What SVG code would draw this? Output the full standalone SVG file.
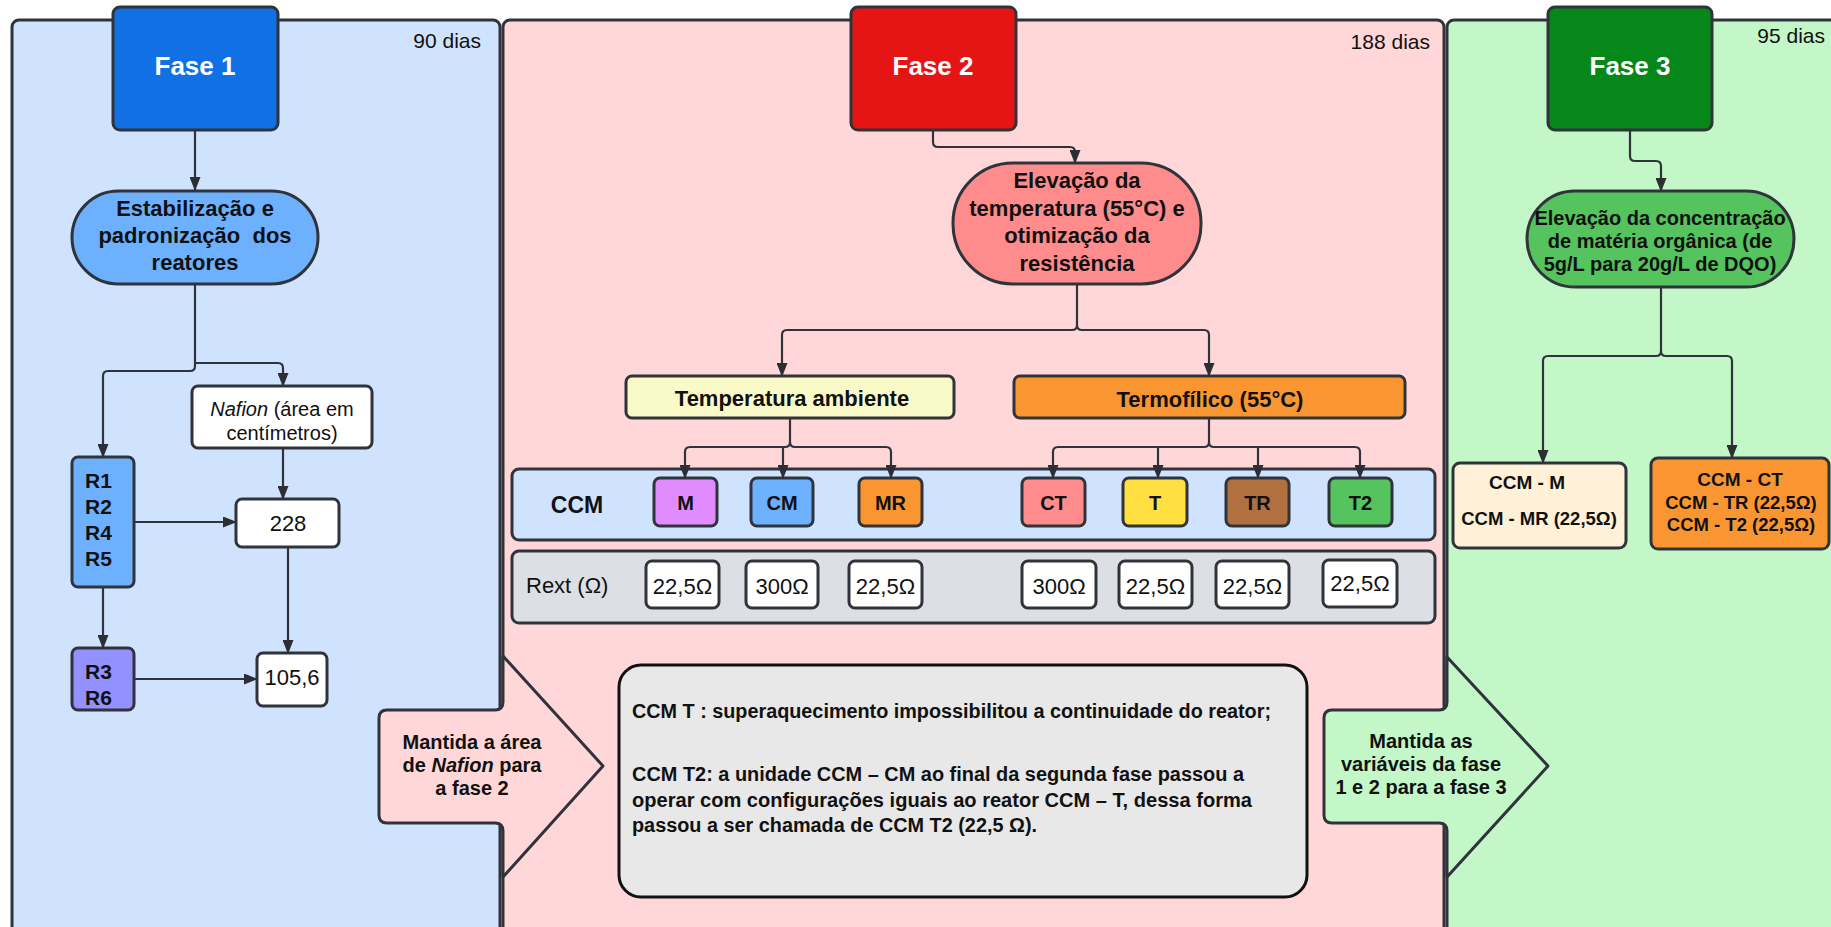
<svg xmlns="http://www.w3.org/2000/svg" width="1831" height="927" viewBox="0 0 1831 927">
<style>
.pn{stroke:#30343a;stroke-width:3}
.nd{stroke:#30343a;stroke-width:3}
.c{fill:none;stroke:#30343a;stroke-width:2.2}
.t{font-family:"Liberation Sans",Arial,sans-serif;fill:#111}
.b{font-weight:bold}
.w{fill:#fff;font-weight:bold;font-size:26px}
.m{text-anchor:middle}
</style>
<defs>
<marker id="ah" markerWidth="14" markerHeight="11" refX="13" refY="5.5" orient="auto" markerUnits="userSpaceOnUse"><path d="M0,0 L14,5.5 L0,11 z" fill="#2b2f33"/></marker>
</defs>
<rect width="1831" height="927" fill="#ffffff"/>
<g id="panels">
<rect class="pn" x="12" y="20" width="488" height="960" rx="7" fill="#CFE3FE"/>
<rect class="pn" x="503" y="20" width="941" height="960" rx="7" fill="#FFD7D8"/>
<rect class="pn" x="1447" y="20" width="400" height="960" rx="7" fill="#C3F7C8"/>
<text class="t" x="481" y="48" font-size="21" text-anchor="end">90 dias</text>
<text class="t" x="1430" y="49" font-size="21" text-anchor="end">188 dias</text>
<text class="t" x="1825" y="43" font-size="21" text-anchor="end">95 dias</text>
</g>
<g id="fase1">
<rect class="nd" x="113" y="7" width="165" height="123" rx="7" fill="#1170E4"/>
<text class="t w m" x="195" y="75">Fase 1</text>
</g>
<g id="estabilizacao">
<rect class="nd" x="72" y="191" width="246" height="93" rx="46.5" fill="#6CB0FE"/>
<text class="t b m" font-size="22" x="195" y="216">Estabilização e</text>
<text class="t b m" font-size="22" x="195" y="243">padronização&#160; dos</text>
<text class="t b m" font-size="22" x="195" y="270">reatores</text>
</g>
<g id="nafion">
<rect class="nd" x="192" y="386" width="180" height="62" rx="6" fill="#ffffff"/>
<text class="t m" font-size="20" x="282" y="416"><tspan font-style="italic">Nafion</tspan> (área em</text>
<text class="t m" font-size="20" x="282" y="440">centímetros)</text>
</g>
<g id="v228">
<rect class="nd" x="236" y="499" width="103" height="48" rx="6" fill="#ffffff"/>
<text class="t m" font-size="22" x="288" y="531">228</text>
</g>
<g id="v1056">
<rect class="nd" x="257" y="653" width="70" height="53" rx="6" fill="#ffffff"/>
<text class="t m" font-size="22" x="292" y="685">105,6</text>
</g>
<g id="r1245">
<rect class="nd" x="72" y="457" width="62" height="130" rx="6" fill="#6CB0FE"/>
<text class="t b" font-size="21" x="85" y="488" fill="#222">R1</text>
<text class="t b" font-size="21" x="85" y="514" fill="#222">R2</text>
<text class="t b" font-size="21" x="85" y="540" fill="#222">R4</text>
<text class="t b" font-size="21" x="85" y="566" fill="#222">R5</text>
</g>
<g id="r36">
<rect class="nd" x="72" y="648" width="62" height="62" rx="6" fill="#9390FF"/>
<text class="t b" font-size="21" x="85" y="679">R3</text>
<text class="t b" font-size="21" x="85" y="705">R6</text>
</g>
<g id="fase2">
<rect class="nd" x="851" y="7" width="165" height="123" rx="7" fill="#E51515"/>
<text class="t w m" x="933" y="75">Fase 2</text>
</g>
<g id="elevacao-temp">
<rect class="nd" x="953" y="163" width="248" height="121" rx="60" fill="#FF8C8C"/>
<text class="t b m" font-size="22" x="1077" y="188">Elevação da</text>
<text class="t b m" font-size="22" x="1077" y="216">temperatura (55°C) e</text>
<text class="t b m" font-size="22" x="1077" y="243">otimização da</text>
<text class="t b m" font-size="22" x="1077" y="271">resistência</text>
</g>
<g id="temp-ambiente">
<rect class="nd" x="626" y="376" width="328" height="42" rx="6" fill="#FAFAC8"/>
<text class="t b m" font-size="22" x="792" y="406" fill="#333">Temperatura ambiente</text>
</g>
<g id="termofilico">
<rect class="nd" x="1014" y="376" width="391" height="42" rx="6" fill="#FA9632"/>
<text class="t b m" font-size="22" x="1210" y="407" fill="#333">Termofílico (55°C)</text>
</g>
<g id="ccm-band">
<rect class="nd" x="512" y="469" width="923" height="71" rx="7" fill="#CFE3FE"/>
<text class="t b m" font-size="23" x="577" y="513">CCM</text>
</g>
<g id="rext-band">
<rect class="nd" x="512" y="551" width="923" height="72" rx="7" fill="#DCDFE4"/>
<text class="t" font-size="22" x="526" y="593" fill="#444">Rext (Ω)</text>
</g>
<g id="ccm-M"><rect class="nd" x="654" y="478" width="63" height="48" rx="6" fill="#E08CFF"/><text class="t b m" font-size="20" x="685.5" y="510">M</text></g>
<g id="ccm-CM"><rect class="nd" x="751" y="478" width="62" height="48" rx="6" fill="#6CB0FE"/><text class="t b m" font-size="20" x="782" y="510">CM</text></g>
<g id="ccm-MR"><rect class="nd" x="859" y="478" width="63" height="48" rx="6" fill="#FA9632"/><text class="t b m" font-size="20" x="890.5" y="510">MR</text></g>
<g id="ccm-CT"><rect class="nd" x="1022" y="478" width="63" height="48" rx="6" fill="#FF8C8C"/><text class="t b m" font-size="20" x="1053.5" y="510">CT</text></g>
<g id="ccm-T"><rect class="nd" x="1123" y="478" width="64" height="48" rx="6" fill="#FFE040"/><text class="t b m" font-size="20" x="1155" y="510">T</text></g>
<g id="ccm-TR"><rect class="nd" x="1226" y="478" width="63" height="48" rx="6" fill="#B07040"/><text class="t b m" font-size="20" x="1257.5" y="510">TR</text></g>
<g id="ccm-T2"><rect class="nd" x="1329" y="478" width="63" height="48" rx="6" fill="#55C35E"/><text class="t b m" font-size="20" x="1360.5" y="510">T2</text></g>
<g id="rext-M"><rect class="nd" x="646" y="561" width="73" height="47" rx="6" fill="#fff"/><text class="t m" font-size="22" x="682.5" y="594">22,5Ω</text></g>
<g id="rext-CM"><rect class="nd" x="746" y="561" width="72" height="47" rx="6" fill="#fff"/><text class="t m" font-size="22" x="782" y="594">300Ω</text></g>
<g id="rext-MR"><rect class="nd" x="849" y="561" width="73" height="47" rx="6" fill="#fff"/><text class="t m" font-size="22" x="885.5" y="594">22,5Ω</text></g>
<g id="rext-CT"><rect class="nd" x="1022" y="561" width="74" height="47" rx="6" fill="#fff"/><text class="t m" font-size="22" x="1059" y="594">300Ω</text></g>
<g id="rext-T"><rect class="nd" x="1119" y="561" width="73" height="47" rx="6" fill="#fff"/><text class="t m" font-size="22" x="1155.5" y="594">22,5Ω</text></g>
<g id="rext-TR"><rect class="nd" x="1216" y="561" width="73" height="47" rx="6" fill="#fff"/><text class="t m" font-size="22" x="1252.5" y="594">22,5Ω</text></g>
<g id="rext-T2"><rect class="nd" x="1323" y="560" width="74" height="47" rx="6" fill="#fff"/><text class="t m" font-size="22" x="1360" y="591">22,5Ω</text></g>
<g id="fase3">
<rect class="nd" x="1548" y="7" width="164" height="123" rx="7" fill="#05871A"/>
<text class="t w m" x="1630" y="75">Fase 3</text>
</g>
<g id="elevacao-mo">
<rect class="nd" x="1527" y="191" width="267" height="96" rx="48" fill="#55C35E"/>
<text class="t b m" font-size="20" x="1660" y="225">Elevação da concentração</text>
<text class="t b m" font-size="20" x="1660" y="248">de matéria orgânica (de</text>
<text class="t b m" font-size="20" x="1660" y="271">5g/L para 20g/L de DQO)</text>
</g>
<g id="ccm-m-mr">
<rect class="nd" x="1453" y="463" width="173" height="85" rx="7" fill="#FFF0D8" stroke="#666"/>
<text class="t b m" font-size="19" x="1527" y="489">CCM - M</text>
<text class="t b m" font-size="18.5" x="1539" y="525">CCM - MR (22,5Ω)</text>
</g>
<g id="ccm-ct-tr-t2">
<rect class="nd" x="1651" y="458" width="178" height="91" rx="7" fill="#FA9632" stroke="#666"/>
<text class="t b m" font-size="19" x="1740" y="486">CCM - CT</text>
<text class="t b m" font-size="18.5" x="1741" y="509">CCM - TR (22,5Ω)</text>
<text class="t b m" font-size="18.5" x="1741" y="531">CCM - T2 (22,5Ω)</text>
</g>
<g id="seta-fase2">
<path class="nd" d="M387,710 H495 Q503,710 503,702 V656 L603,766 L503,877 V831 Q503,823 495,823 H387 Q379,823 379,815 V718 Q379,710 387,710 Z" fill="#FFD7D8" stroke-linejoin="round"/>
<text class="t b m" font-size="20" x="472" y="749">Mantida a área</text>
<text class="t b m" font-size="20" x="472" y="772">de <tspan font-style="italic">Nafion</tspan> para</text>
<text class="t b m" font-size="20" x="472" y="795">a fase 2</text>
</g>
<g id="nota">
<rect x="619" y="665" width="688" height="232" rx="22" fill="#E8E8E8" stroke="#111" stroke-width="3"/>
<text class="t b" font-size="20" x="632" y="718" textLength="639" lengthAdjust="spacingAndGlyphs">CCM T : superaquecimento impossibilitou a continuidade do reator;</text>
<text class="t b" font-size="20" x="632" y="781" textLength="612" lengthAdjust="spacingAndGlyphs">CCM T2: a unidade CCM – CM ao final da segunda fase passou a</text>
<text class="t b" font-size="20" x="632" y="807" textLength="620" lengthAdjust="spacingAndGlyphs">operar com configurações iguais ao reator CCM – T, dessa forma</text>
<text class="t b" font-size="20" x="632" y="832" textLength="405" lengthAdjust="spacingAndGlyphs">passou a ser chamada de CCM T2 (22,5 Ω).</text>
</g>
<g id="seta-fase3">
<path class="nd" d="M1332,710 H1439 Q1447,710 1447,702 V657 L1548,766 L1447,877 V831 Q1447,823 1439,823 H1332 Q1324,823 1324,815 V718 Q1324,710 1332,710 Z" fill="#C3F7C8" stroke-linejoin="round"/>
<text class="t b m" font-size="20" x="1421" y="748">Mantida as</text>
<text class="t b m" font-size="20" x="1421" y="771">variáveis da fase</text>
<text class="t b m" font-size="20" x="1421" y="794">1 e 2 para a fase 3</text>
</g>
<g id="connectors">
<path class="c" d="M195,130 V190" marker-end="url(#ah)"/>
<path class="c" d="M195,284 V366 Q195,371 190,371 H108 Q103,371 103,376 V457" marker-end="url(#ah)"/>
<path class="c" d="M195,363 H278 Q283,363 283,368 V386" marker-end="url(#ah)"/>
<path class="c" d="M283,448 V499" marker-end="url(#ah)"/>
<path class="c" d="M134,522 H236" marker-end="url(#ah)"/>
<path class="c" d="M103,587 V648" marker-end="url(#ah)"/>
<path class="c" d="M134,679 H257" marker-end="url(#ah)"/>
<path class="c" d="M288,547 V653" marker-end="url(#ah)"/>
<path class="c" d="M933,130 V142 Q933,147 938,147 H1070 Q1075,147 1075,152 V163" marker-end="url(#ah)"/>
<path class="c" d="M1077,284 V325 Q1077,330 1072,330 H787 Q782,330 782,335 V376" marker-end="url(#ah)"/>
<path class="c" d="M1077,325 Q1077,330 1082,330 H1204 Q1209,330 1209,335 V376" marker-end="url(#ah)"/>
<path class="c" d="M790,418 V442"/>
<path class="c" d="M790,442 Q790,447 785,447 H690 Q685,447 685,452 V478" marker-end="url(#ah)"/>
<path class="c" d="M790,442 Q790,447 795,447 H886 Q891,447 891,452 V478" marker-end="url(#ah)"/>
<path class="c" d="M783,447 V478" marker-end="url(#ah)"/>
<path class="c" d="M1209,418 V442"/>
<path class="c" d="M1209,442 Q1209,447 1204,447 H1058 Q1053,447 1053,452 V478" marker-end="url(#ah)"/>
<path class="c" d="M1209,442 Q1209,447 1214,447 H1355 Q1360,447 1360,452 V478" marker-end="url(#ah)"/>
<path class="c" d="M1158,447 V478" marker-end="url(#ah)"/>
<path class="c" d="M1258,447 V478" marker-end="url(#ah)"/>
<path class="c" d="M1630,130 V156 Q1630,161 1635,161 H1656 Q1661,161 1661,166 V191" marker-end="url(#ah)"/>
<path class="c" d="M1661,287 V351 Q1661,356 1656,356 H1548 Q1543,356 1543,361 V463" marker-end="url(#ah)"/>
<path class="c" d="M1661,351 Q1661,356 1666,356 H1727 Q1732,356 1732,361 V458" marker-end="url(#ah)"/>
</g>
</svg>
